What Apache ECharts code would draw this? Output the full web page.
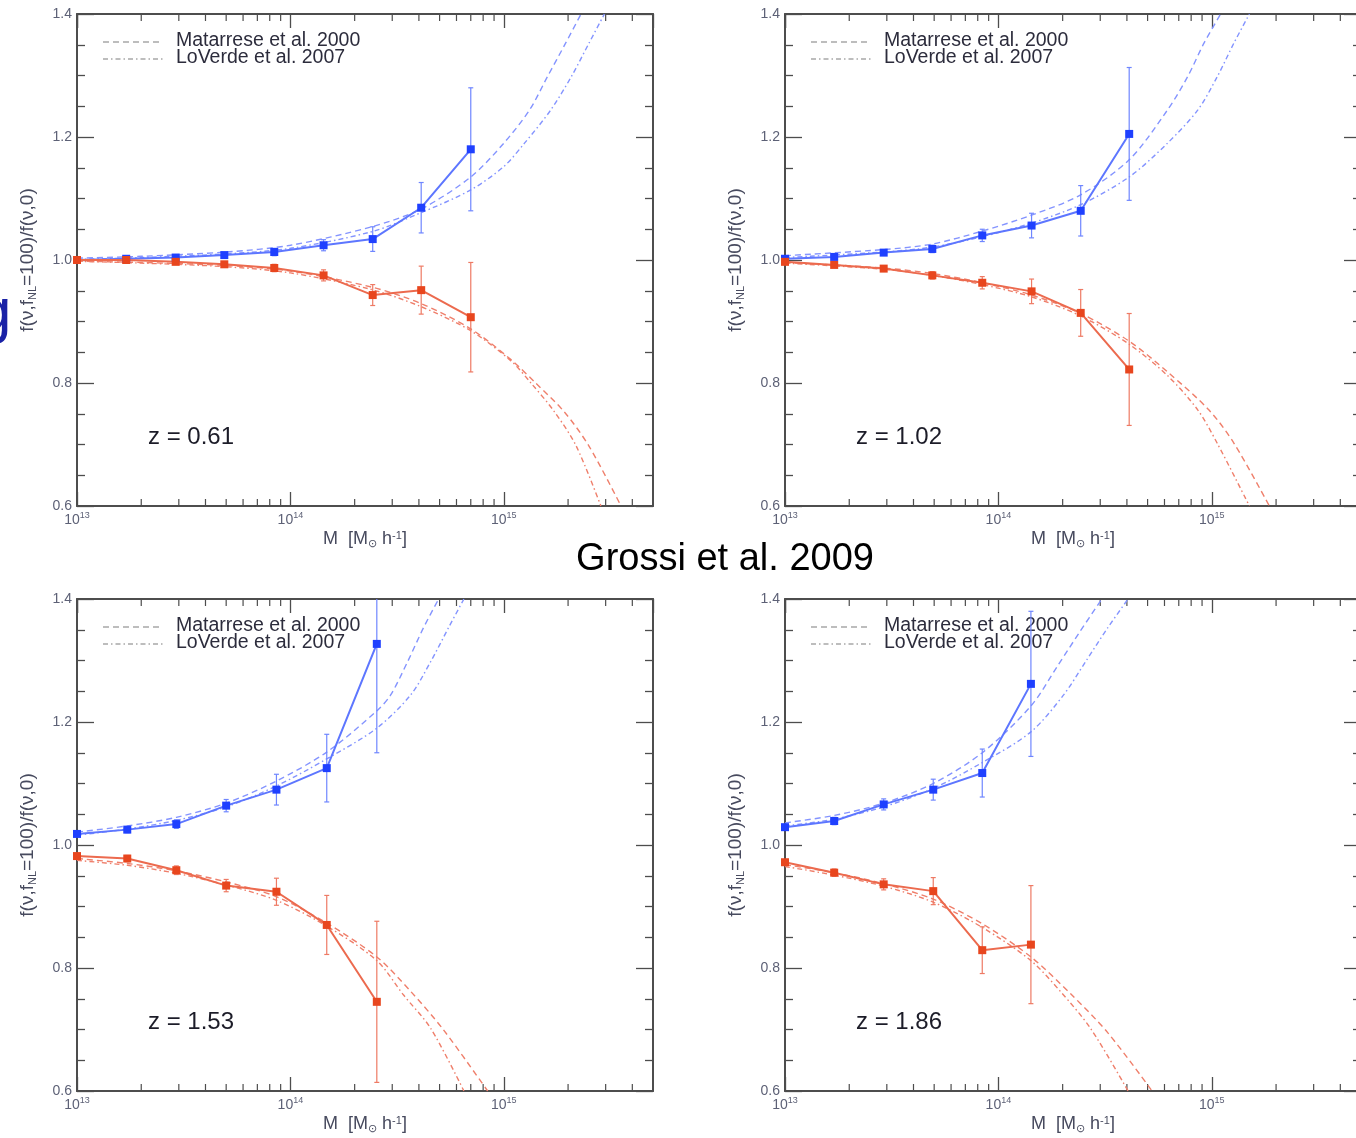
<!DOCTYPE html>
<html>
<head>
<meta charset="utf-8">
<script src="https://cdn.jsdelivr.net/npm/echarts@6/dist/echarts.min.js"></script>
<style>
  html, body { margin: 0; padding: 0; background: #ffffff; }
  #chart { width: 1356px; height: 1138px; }
</style>
</head>
<body>
<div id="chart"></div>
<script>
// ---------------------------------------------------------------------------
// Ratio of non-Gaussian to Gaussian halo mass functions, four redshifts.
// Blue: f_NL > 0, red: f_NL < 0. Points = simulations (with 1-sigma bars),
// dashed = Matarrese et al. 2000, dash-dot = LoVerde et al. 2007.
// ---------------------------------------------------------------------------

// z = 0.61
const mass061     = [1.0e13, 1.7e13, 2.9e13, 4.9e13, 8.4e13, 1.43e14, 2.43e14, 4.1e14, 7.0e14];
const plus061     = [1.000, 1.002, 1.004, 1.008, 1.013, 1.024, 1.034, 1.085, 1.180];
const plusErr061  = [0.002, 0.002, 0.003, 0.004, 0.006, 0.009, 0.020, 0.041, 0.100];
const minus061    = [1.000, 1.000, 0.997, 0.993, 0.987, 0.975, 0.943, 0.951, 0.907];
const minusErr061 = [0.002, 0.002, 0.003, 0.004, 0.006, 0.009, 0.017, 0.039, 0.089];

// z = 1.02
const mass102     = [1.0e13, 1.7e13, 2.9e13, 4.9e13, 8.4e13, 1.43e14, 2.43e14, 4.1e14];
const plus102     = [1.002, 1.005, 1.012, 1.018, 1.040, 1.056, 1.080, 1.205];
const plusErr102  = [0.002, 0.003, 0.004, 0.006, 0.010, 0.020, 0.041, 0.108];
const minus102    = [0.997, 0.992, 0.986, 0.975, 0.963, 0.949, 0.914, 0.822];
const minusErr102 = [0.002, 0.003, 0.004, 0.006, 0.010, 0.020, 0.038, 0.091];

// z = 1.53
const mass153     = [1.0e13, 1.72e13, 2.92e13, 5.0e13, 8.6e13, 1.48e14, 2.54e14];
const plus153     = [1.018, 1.025, 1.034, 1.064, 1.090, 1.125, 1.327];
const plusErr153  = [0.004, 0.005, 0.007, 0.010, 0.025, 0.055, 0.177];
const minus153    = [0.982, 0.978, 0.959, 0.934, 0.924, 0.870, 0.745];
const minusErr153 = [0.004, 0.005, 0.007, 0.010, 0.022, 0.048, 0.131];

// z = 1.86
const mass186     = [1.0e13, 1.7e13, 2.9e13, 4.95e13, 8.4e13, 1.42e14];
const plus186     = [1.029, 1.039, 1.066, 1.090, 1.117, 1.262];
const plusErr186  = [0.004, 0.006, 0.009, 0.017, 0.039, 0.118];
const minus186    = [0.972, 0.955, 0.936, 0.925, 0.829, 0.838];
const minusErr186 = [0.004, 0.006, 0.009, 0.022, 0.038, 0.096];

// Analytic predictions, [M, ratio]
const matarresePlus061  = [[1e13,1.003],[2e13,1.006],[5e13,1.013],[1e14,1.024],[2.4e14,1.054],[4.1e14,1.083],[7e14,1.135],[1e15,1.19],[1.32e15,1.244],[1.6e15,1.298],[1.95e15,1.353],[2.3e15,1.40]];
const loverdePlus061    = [[1e13,1.001],[2e13,1.004],[5e13,1.010],[1e14,1.019],[2.4e14,1.046],[4.1e14,1.077],[7e14,1.114],[1e15,1.152],[1.25e15,1.19],[1.66e15,1.244],[2.07e15,1.298],[2.51e15,1.353],[2.96e15,1.40]];
const matarreseMinus061 = [[1e13,0.998],[2e13,0.996],[5e13,0.991],[1e14,0.982],[2.4e14,0.956],[4.1e14,0.929],[7e14,0.888],[1.08e15,0.838],[1.41e15,0.80],[1.92e15,0.753],[2.51e15,0.697],[3.54e15,0.60]];
const loverdeMinus061   = [[1e13,0.998],[2e13,0.995],[5e13,0.989],[1e14,0.979],[2.4e14,0.952],[4.1e14,0.924],[7e14,0.885],[1.08e15,0.836],[1.34e15,0.80],[1.72e15,0.754],[2.18e15,0.698],[2.85e15,0.60]];

const matarresePlus102  = [[1e13,1.007],[2.9e13,1.017],[4.9e13,1.026],[8.4e13,1.047],[1.43e14,1.073],[2.43e14,1.106],[4.1e14,1.163],[6.2e14,1.244],[7.7e14,1.298],[9.2e14,1.353],[1.1e15,1.40]];
const loverdePlus102    = [[1e13,1.004],[2.9e13,1.013],[4.9e13,1.021],[8.4e13,1.038],[1.43e14,1.060],[2.43e14,1.090],[4.1e14,1.135],[6.2e14,1.19],[8.6e14,1.244],[1.06e15,1.298],[1.27e15,1.353],[1.5e15,1.40]];
const matarreseMinus102 = [[1e13,0.996],[2.9e13,0.987],[4.9e13,0.978],[8.4e13,0.963],[1.43e14,0.943],[2.43e14,0.913],[4.1e14,0.868],[6.2e14,0.818],[9.7e14,0.756],[1.27e15,0.702],[1.86e15,0.60]];
const loverdeMinus102   = [[1e13,0.995],[2.9e13,0.985],[4.9e13,0.975],[8.4e13,0.960],[1.43e14,0.940],[2.43e14,0.909],[4.1e14,0.863],[6.2e14,0.812],[8.6e14,0.756],[1.06e15,0.702],[1.5e15,0.60]];

const matarresePlus153  = [[1e13,1.021],[1.72e13,1.031],[2.92e13,1.045],[5e13,1.068],[8.6e13,1.104],[1.48e14,1.151],[2.54e14,1.218],[2.95e14,1.244],[3.54e14,1.298],[4.2e14,1.353],[4.95e14,1.40]];
const loverdePlus153    = [[1e13,1.016],[1.72e13,1.026],[2.92e13,1.040],[5e13,1.062],[8.6e13,1.096],[1.48e14,1.140],[2.54e14,1.190],[3.66e14,1.244],[4.54e14,1.298],[5.5e14,1.353],[6.5e14,1.40]];
const matarreseMinus153 = [[1e13,0.978],[1.72e13,0.970],[2.92e13,0.958],[5e13,0.940],[8.6e13,0.916],[1.48e14,0.873],[2.54e14,0.818],[3.66e14,0.762],[5.2e14,0.700],[8.4e14,0.60]];
const loverdeMinus153   = [[1e13,0.975],[1.72e13,0.967],[2.92e13,0.954],[5e13,0.935],[8.6e13,0.910],[1.48e14,0.868],[2.54e14,0.812],[3.39e14,0.756],[4.54e14,0.702],[6.5e14,0.60]];

const matarresePlus186  = [[1e13,1.036],[1.7e13,1.048],[2.9e13,1.068],[4.95e13,1.100],[8.4e13,1.150],[1.42e14,1.226],[1.9e14,1.292],[2.4e14,1.346],[3.05e14,1.40]];
const loverdePlus186    = [[1e13,1.031],[1.7e13,1.042],[2.9e13,1.062],[4.95e13,1.092],[8.4e13,1.134],[1.42e14,1.184],[2.02e14,1.244],[2.56e14,1.298],[3.25e14,1.353],[4.05e14,1.40]];
const matarreseMinus186 = [[1e13,0.968],[1.7e13,0.955],[2.9e13,0.937],[4.95e13,0.912],[8.4e13,0.872],[1.42e14,0.818],[2.18e14,0.758],[3.25e14,0.695],[5.25e14,0.60]];
const loverdeMinus186   = [[1e13,0.965],[1.7e13,0.951],[2.9e13,0.933],[4.95e13,0.907],[8.4e13,0.866],[1.42e14,0.812],[1.95e14,0.762],[2.7e14,0.702],[4.05e14,0.60]];

// Axis ranges and tick labels
const massMin = 1e13, massMax = 5e15;
const ratioMin = 0.6, ratioMax = 1.4, ratioStep = 0.2;
const redshiftLabels = ['z = 0.61', 'z = 1.02', 'z = 1.53', 'z = 1.86'];
const legendLabels = ['Matarrese et al. 2000', 'LoVerde et al. 2007'];
const pageTitle = 'Grossi et al. 2009';

// Minor log ticks: 2..9 x 10^n inside the mass range
const minorTickMass = [];
for (let e = 13; e <= 15; e++) {
  for (let k = 2; k <= 9; k++) {
    const v = k * Math.pow(10, e);
    if (v < massMax) minorTickMass.push(v);
  }
}

// ---------------------------------------------------------------------------
const AXIS = '#4d4d4d';
const TICKTXT = '#5d6176';
const NAMETXT = '#474a5e';
const FONT = '"Liberation Sans", Arial, Helvetica, sans-serif';
const BLUE = { point: '#1f40ff', line: '#5d76ff', err: '#6f86ff', theory: '#8494ff' };
const RED  = { point: '#e8461e', line: '#ec6a4e', err: '#ee7a64', theory: '#ef7f6b' };
const DASH = [6, 4];
const DASHDOT = [5, 3, 1.5, 3];

const panels = [
  { left: 77,  top: 14,  mass: mass061, plus: plus061, plusErr: plusErr061, minus: minus061, minusErr: minusErr061,
    mP: matarresePlus061, lP: loverdePlus061, mM: matarreseMinus061, lM: loverdeMinus061 },
  { left: 785, top: 14,  mass: mass102, plus: plus102, plusErr: plusErr102, minus: minus102, minusErr: minusErr102,
    mP: matarresePlus102, lP: loverdePlus102, mM: matarreseMinus102, lM: loverdeMinus102 },
  { left: 77,  top: 599, mass: mass153, plus: plus153, plusErr: plusErr153, minus: minus153, minusErr: minusErr153,
    mP: matarresePlus153, lP: loverdePlus153, mM: matarreseMinus153, lM: loverdeMinus153 },
  { left: 785, top: 599, mass: mass186, plus: plus186, plusErr: plusErr186, minus: minus186, minusErr: minusErr186,
    mP: matarresePlus186, lP: loverdePlus186, mM: matarreseMinus186, lM: loverdeMinus186 }
];
const PW = 576, PH = 492;

function powerLabel(v) {
  const e = Math.log10(v);
  const r = Math.round(e);
  if (Math.abs(e - r) > 1e-6) return '';
  return '{b|10}{e|' + r + '}';
}

function errorBarRender(color) {
  return function (params, api) {
    const x = api.value(0), lo = api.value(1), hi = api.value(2);
    const cs = params.coordSys;
    const pLo = api.coord([x, lo]);
    const pHi = api.coord([x, hi]);
    const yTop = Math.max(pHi[1], cs.y);
    const yBot = Math.min(pLo[1], cs.y + cs.height);
    const cap = 2.5;
    const st = { stroke: color, lineWidth: 1.2 };
    const kids = [{ type: 'line', shape: { x1: pLo[0], y1: yBot, x2: pLo[0], y2: yTop }, style: st }];
    if (pHi[1] >= cs.y) kids.push({ type: 'line', shape: { x1: pHi[0] - cap, y1: pHi[1], x2: pHi[0] + cap, y2: pHi[1] }, style: st });
    if (pLo[1] <= cs.y + cs.height) kids.push({ type: 'line', shape: { x1: pLo[0] - cap, y1: pLo[1], x2: pLo[0] + cap, y2: pLo[1] }, style: st });
    return { type: 'group', children: kids };
  };
}

function minorTickRender(params, api) {
  const v = api.value(0);
  const b = api.coord([v, ratioMin]);
  const t = api.coord([v, ratioMax]);
  const st = { stroke: AXIS, lineWidth: 1.2 };
  return { type: 'group', children: [
    { type: 'line', shape: { x1: b[0], y1: b[1], x2: b[0], y2: b[1] - 7 }, style: st },
    { type: 'line', shape: { x1: t[0], y1: t[1], x2: t[0], y2: t[1] + 7 }, style: st }
  ] };
}

const grids = [], xAxes = [], yAxes = [], series = [], graphics = [];

panels.forEach((p, i) => {
  grids.push({ left: p.left, top: p.top, width: PW, height: PH, containLabel: false, outerBoundsMode: 'none' });

  const tickStyle = { color: AXIS, width: 1.3 };
  const lineStyle = { color: AXIS, width: 2 };

  xAxes.push({
    type: 'log', logBase: 10, gridIndex: i, min: massMin, max: massMax, position: 'bottom',
    axisLine: { show: true, onZero: false, lineStyle: lineStyle },
    axisTick: { show: true, inside: true, length: 14, lineStyle: tickStyle },
    minorTick: { show: false }, splitLine: { show: false }, minorSplitLine: { show: false },
    axisLabel: {
      show: true, margin: 5, formatter: powerLabel, showMaxLabel: false,
      rich: {
        b: { fontFamily: FONT, fontSize: 14, color: TICKTXT, lineHeight: 19 },
        e: { fontFamily: FONT, fontSize: 9, color: TICKTXT, verticalAlign: 'top', lineHeight: 10 }
      }
    },
    name: 'M  [M{s|⊙} h{u|-1}]', nameLocation: 'middle', nameGap: 24,
    nameTextStyle: {
      fontFamily: FONT, fontSize: 18, color: NAMETXT,
      rich: {
        s: { fontFamily: FONT, fontSize: 11, color: NAMETXT, verticalAlign: 'bottom', lineHeight: 19 },
        u: { fontFamily: FONT, fontSize: 11, color: NAMETXT, verticalAlign: 'top', lineHeight: 19 }
      }
    }
  });
  xAxes.push({
    type: 'log', logBase: 10, gridIndex: i, min: massMin, max: massMax, position: 'top',
    axisLine: { show: true, onZero: false, lineStyle: lineStyle },
    axisTick: { show: true, inside: true, length: 14, lineStyle: tickStyle },
    axisLabel: { show: false }, splitLine: { show: false }
  });
  yAxes.push({
    type: 'value', gridIndex: i, min: ratioMin, max: ratioMax, interval: ratioStep, position: 'left',
    axisLine: { show: true, onZero: false, lineStyle: lineStyle },
    axisTick: { show: true, inside: true, length: 17, lineStyle: tickStyle },
    minorTick: { show: true, splitNumber: 4, length: 8, lineStyle: tickStyle },
    splitLine: { show: false },
    axisLabel: { show: true, margin: 5, fontFamily: FONT, fontSize: 14, color: TICKTXT, formatter: v => v.toFixed(1) },
    name: 'f(ν,f{s|NL}=100)/f(ν,0)', nameLocation: 'middle', nameRotate: 90, nameGap: 39,
    nameTextStyle: {
      fontFamily: FONT, fontSize: 19, color: NAMETXT,
      rich: { s: { fontFamily: FONT, fontSize: 11, color: NAMETXT, verticalAlign: 'bottom', lineHeight: 20 } }
    }
  });
  yAxes.push({
    type: 'value', gridIndex: i, min: ratioMin, max: ratioMax, interval: ratioStep, position: 'right',
    axisLine: { show: true, onZero: false, lineStyle: lineStyle },
    axisTick: { show: true, inside: true, length: 17, lineStyle: tickStyle },
    minorTick: { show: true, splitNumber: 4, length: 8, lineStyle: tickStyle },
    splitLine: { show: false }, axisLabel: { show: false }
  });

  const xi = 2 * i, yi = 2 * i;

  // log minor ticks on bottom and top frame
  series.push({
    type: 'custom', xAxisIndex: xi, yAxisIndex: yi, renderItem: minorTickRender,
    data: minorTickMass.map(v => [v, 1.0]), encode: { x: 0, y: 1 }, silent: true, z: 1
  });

  // theory curves
  const theory = (data, c, dash) => ({
    type: 'line', xAxisIndex: xi, yAxisIndex: yi, data: data, showSymbol: false, symbol: 'none',
    smooth: 0.3, clip: true, silent: true, z: 2,
    lineStyle: { color: c, width: 1.4, type: dash }
  });
  series.push(theory(p.mP, BLUE.theory, DASH));
  series.push(theory(p.lP, BLUE.theory, DASHDOT));
  series.push(theory(p.mM, RED.theory, DASH));
  series.push(theory(p.lM, RED.theory, DASHDOT));

  // error bars
  series.push({
    type: 'custom', xAxisIndex: xi, yAxisIndex: yi, renderItem: errorBarRender(BLUE.err), silent: true, z: 3,
    data: p.mass.map((m, j) => [m, p.plus[j] - p.plusErr[j], p.plus[j] + p.plusErr[j]]),
    encode: { x: 0, y: [1, 2] }
  });
  series.push({
    type: 'custom', xAxisIndex: xi, yAxisIndex: yi, renderItem: errorBarRender(RED.err), silent: true, z: 3,
    data: p.mass.map((m, j) => [m, p.minus[j] - p.minusErr[j], p.minus[j] + p.minusErr[j]]),
    encode: { x: 0, y: [1, 2] }
  });

  // simulation points
  const sim = (vals, c) => ({
    type: 'line', xAxisIndex: xi, yAxisIndex: yi, z: 4, silent: true,
    data: p.mass.map((m, j) => [m, vals[j]]),
    symbol: 'rect', symbolSize: 8, showAllSymbol: true,
    itemStyle: { color: c.point }, lineStyle: { color: c.line, width: 2 }
  });
  series.push(sim(p.plus, BLUE));
  series.push(sim(p.minus, RED));

  // legend (drawn inside the frame, upper left)
  graphics.push({ type: 'line', silent: true, shape: { x1: p.left + 26, y1: p.top + 28, x2: p.left + 82, y2: p.top + 28 },
    style: { stroke: '#a8a8a8', lineWidth: 1.3, lineDash: DASH } });
  graphics.push({ type: 'line', silent: true, shape: { x1: p.left + 26, y1: p.top + 45, x2: p.left + 86, y2: p.top + 45 },
    style: { stroke: '#a8a8a8', lineWidth: 1.3, lineDash: DASHDOT } });
  graphics.push({ type: 'text', silent: true, x: p.left + 99, y: p.top + 27,
    style: { text: legendLabels[0], fill: '#2c2c3c', font: '19.5px ' + FONT, align: 'left', verticalAlign: 'middle' } });
  graphics.push({ type: 'text', silent: true, x: p.left + 99, y: p.top + 43.5,
    style: { text: legendLabels[1], fill: '#2c2c3c', font: '19.5px ' + FONT, align: 'left', verticalAlign: 'middle' } });

  // redshift tag
  graphics.push({ type: 'text', silent: true, x: p.left + 71, y: p.top + 423,
    style: { text: redshiftLabels[i], fill: '#1c1c28', font: '24px ' + FONT, align: 'left', verticalAlign: 'middle' } });
});

// page title between the two rows
graphics.push({ type: 'text', silent: true, x: 725, y: 560,
  style: { text: pageTitle, fill: '#000000', font: '38px ' + FONT, align: 'center', verticalAlign: 'middle' } });
// edge of a heading from the surrounding page
graphics.push({ type: 'text', silent: true, x: -23, y: 314,
  style: { text: 'g', fill: '#1a22a6', font: '62px ' + FONT, align: 'left', verticalAlign: 'middle' } });

const chart = echarts.init(document.getElementById('chart'), null, { renderer: 'canvas' });
chart.setOption({
  animation: false,
  backgroundColor: '#ffffff',
  grid: grids,
  xAxis: xAxes,
  yAxis: yAxes,
  series: series,
  graphic: { elements: graphics }
});
</script>
</body>
</html>
